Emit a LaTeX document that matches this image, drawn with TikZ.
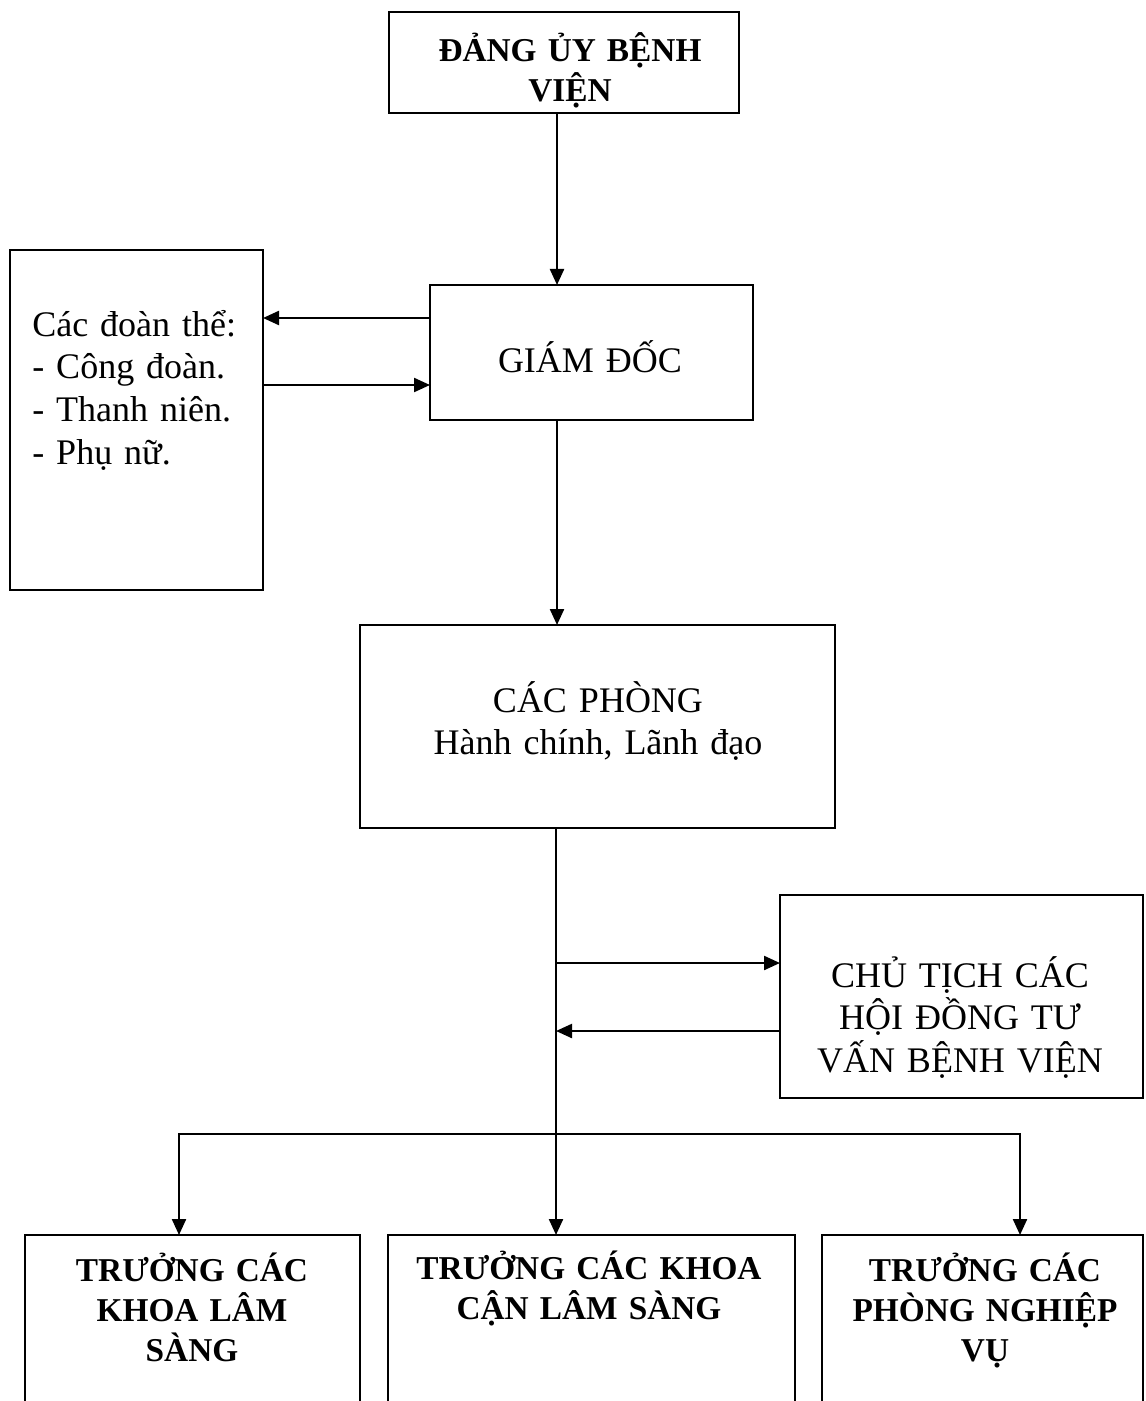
\documentclass[tikz,border=0pt]{standalone}
\usepackage{fontspec}
\setmainfont{Liberation Serif}
\usetikzlibrary{arrows.meta}

\begin{document}
\begin{tikzpicture}[x=0.75pt,y=-0.75pt,
  frame/.style={draw, line width=1.4pt, inner sep=0pt, outer sep=0pt, anchor=north west},
  sized/.style 2 args={minimum width={#1*0.75pt}, minimum height={#2*0.75pt}},
  plain/.style={font=\fontsize{27}{32}\selectfont, inner sep=0pt, align=center, text width=#1*0.75pt},
  heavy/.style={font=\fontsize{25}{30}\selectfont\bfseries, inner sep=0pt, align=center, text width=#1*0.75pt},
  link/.style={line width=1.7pt, -{Triangle[length=12pt,width=10.5pt]}},
  twolink/.style={line width=1.7pt, {Triangle[length=12pt,width=10.5pt]}-{Triangle[length=12pt,width=10.5pt]}},
]
\useasboundingbox (0,0) rectangle (1145,1401);

% boxes
\node[frame, sized={350}{101}] (party) at (389,12) {};
\node[frame, sized={253}{340}] (unions) at (10,250) {};
\node[frame, sized={323}{135}] (director) at (430,285) {};
\node[frame, sized={475}{203}] (offices) at (360,625) {};
\node[frame, sized={363}{203}] (council) at (780,895) {};
\node[frame, sized={335}{230}] (clinical) at (25,1235) {};
\node[frame, sized={407}{230}] (paraclinical) at (388,1235) {};
\node[frame, sized={321}{230}] (departments) at (822,1235) {};

% labels
\node[heavy=340, anchor=base] (partyText) at (570,62)
  {\fontsize{25}{28}\selectfont ĐẢNG ỦY BỆNH\\VIỆN};
\node[plain=240, anchor=base west, align=left] (unionsText) at (32,336)
  {Các đoàn thể:\\- Công đoàn.\\- Thanh niên.\\- Phụ nữ.};
\node[plain=300, anchor=base] (directorText) at (590,372) {GIÁM ĐỐC};
\node[plain=460, anchor=base] (officesText) at (598,712)
  {CÁC PHÒNG\\Hành chính, Lãnh đạo};
\node[plain=355, anchor=base] (councilText) at (960,987)
  {CHỦ TỊCH CÁC\\HỘI ĐỒNG TƯ\\VẤN BỆNH VIỆN};
\node[heavy=325, anchor=base] (clinicalText) at (192,1281)
  {TRƯỞNG CÁC\\KHOA LÂM\\SÀNG};
\node[heavy=400, anchor=base] (paraclinicalText) at (589,1279)
  {\fontsize{25}{32}\selectfont TRƯỞNG CÁC KHOA\\CẬN LÂM SÀNG};
\node[heavy=318, anchor=base] (departmentsText) at (985,1281)
  {TRƯỞNG CÁC\\PHÒNG NGHIỆP\\VỤ};

% connector guides
\coordinate (spine) at (557,0);
\coordinate (trunk) at (556,0);
\coordinate (toUnions) at (0,318);
\coordinate (fromUnions) at (0,385);
\coordinate (toCouncil) at (0,963);
\coordinate (fromCouncil) at (0,1031);
\coordinate (bus) at (0,1134);
\coordinate (leftDrop) at (179,0);
\coordinate (rightDrop) at (1020,0);

% connectors
\draw[link] (spine |- party.south) -- (spine |- director.north);
\draw[link] (director.west |- toUnions) -- (unions.east |- toUnions);
\draw[link] (unions.east |- fromUnions) -- (director.west |- fromUnions);
\draw[link] (spine |- director.south) -- (spine |- offices.north);
\draw[link] (trunk |- offices.south) -- (trunk |- paraclinical.north);
\draw[link] (trunk |- toCouncil) -- (council.west |- toCouncil);
\draw[link] (council.west |- fromCouncil) -- (trunk |- fromCouncil);
\draw[twolink] (leftDrop |- clinical.north) -- (leftDrop |- bus)
  -- (rightDrop |- bus) -- (rightDrop |- departments.north);
\end{tikzpicture}
\end{document}
